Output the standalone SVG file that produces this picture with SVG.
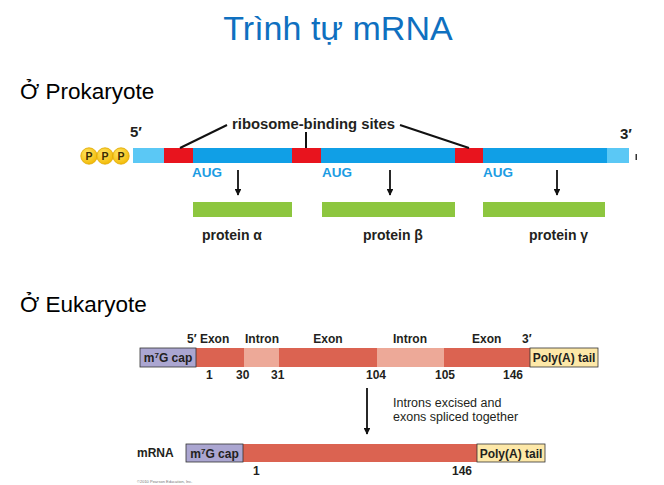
<svg xmlns="http://www.w3.org/2000/svg" width="664" height="485" viewBox="0 0 664 485">
  <style>
    .title { font-family: "Liberation Sans", Arial, sans-serif; font-size: 34px; fill: #0F70C0; }
    .head { font-family: "Liberation Sans", Arial, sans-serif; font-size: 22.5px; fill: #000; }
    .lbl { font-family: "Liberation Sans", Arial, sans-serif; font-weight: bold; font-size: 14px; fill: #231F20; }
    .aug { font-family: "Liberation Sans", Arial, sans-serif; font-weight: bold; font-size: 13.5px; fill: #1C9CE3; }
    .prime { font-family: "Liberation Sans", Arial, sans-serif; font-weight: bold; font-size: 15px; fill: #231F20; }
    .ph { font-family: "Liberation Sans", Arial, sans-serif; font-weight: bold; font-size: 10.5px; fill: #3A2A00; }
    .sm { font-family: "Liberation Sans", Arial, sans-serif; font-size: 12.5px; fill: #231F20; }
    .smb { font-family: "Liberation Sans", Arial, sans-serif; font-weight: bold; font-size: 12px; fill: #231F20; }
    .lead { stroke: #111; stroke-width: 2; fill: none; }
    .arr { stroke: #111; stroke-width: 1.8; fill: none; }
    .box { stroke: #333; stroke-width: 0.8; }
  </style>
  <defs>
    <marker id="ah" viewBox="0 0 10 10" refX="9" refY="5" markerWidth="3.8" markerHeight="3.8" orient="auto">
      <path d="M0,0 L10,5 L0,10 z" fill="#111"/>
    </marker>
    <radialGradient id="pg" cx="0.4" cy="0.35" r="0.7">
      <stop offset="0" stop-color="#FFE566"/>
      <stop offset="1" stop-color="#F2B800"/>
    </radialGradient>
  </defs>

  <!-- headings -->
  <text class="title" x="338" y="40" text-anchor="middle">Trình tự mRNA</text>
  <text class="head" x="20" y="99">Ở Prokaryote</text>
  <text class="head" x="20" y="312">Ở Eukaryote</text>

  <!-- prokaryotic polycistronic mRNA -->
  <g id="pro-mrna">
    <rect x="133" y="148" width="32" height="15" fill="#5BC8F5"/>
    <rect x="164" y="148" width="29" height="15" fill="#E8141E"/>
    <rect x="193" y="148" width="99" height="15" fill="#109FE6"/>
    <rect x="292" y="148" width="29" height="15" fill="#E8141E"/>
    <rect x="321" y="148" width="134" height="15" fill="#109FE6"/>
    <rect x="455" y="148" width="28" height="15" fill="#E8141E"/>
    <rect x="483" y="148" width="124" height="15" fill="#109FE6"/>
    <rect x="607" y="148" width="22" height="15" fill="#5BC8F5"/>
    <rect x="635.5" y="154" width="1.5" height="6" fill="#333"/>
    <text class="prime" x="130" y="137">5′</text>
    <text class="prime" x="620" y="139">3′</text>
  </g>

  <g id="triphosphate">
    <circle cx="89" cy="156" r="8.2" fill="url(#pg)" stroke="#E0A800" stroke-width="0.8"/>
    <circle cx="105" cy="156" r="8.2" fill="url(#pg)" stroke="#E0A800" stroke-width="0.8"/>
    <circle cx="121" cy="156" r="8.2" fill="url(#pg)" stroke="#E0A800" stroke-width="0.8"/>
    <text class="ph" x="89" y="160" text-anchor="middle">P</text>
    <text class="ph" x="105" y="160" text-anchor="middle">P</text>
    <text class="ph" x="121" y="160" text-anchor="middle">P</text>
  </g>

  <g id="rbs-label">
    <text class="lbl" x="232" y="129" textLength="163" lengthAdjust="spacingAndGlyphs">ribosome-binding sites</text>
  </g>

  <g id="aug-labels">
    <text class="aug" x="192" y="177">AUG</text>
    <text class="aug" x="322" y="177">AUG</text>
    <text class="aug" x="483" y="177">AUG</text>
  </g>

  <g id="protein-alpha">
    <rect x="193" y="202" width="99" height="15" fill="#8DC63F"/>
    <text class="lbl" x="202" y="240">protein α</text>
  </g>
  <g id="protein-beta">
    <rect x="322" y="202" width="133" height="15" fill="#8DC63F"/>
    <text class="lbl" x="363" y="240">protein β</text>
  </g>
  <g id="protein-gamma">
    <rect x="483" y="202" width="122" height="15" fill="#8DC63F"/>
    <text class="lbl" x="529" y="240">protein γ</text>
  </g>

  <!-- eukaryotic pre-mRNA -->
  <g id="pre-mrna">
    <rect x="196" y="348" width="48" height="19" fill="#DB6351"/>
    <rect x="244" y="348" width="35" height="19" fill="#EDA998"/>
    <rect x="279" y="348" width="98" height="19" fill="#DB6351"/>
    <rect x="377" y="348" width="67" height="19" fill="#EDA998"/>
    <rect x="444" y="348" width="86" height="19" fill="#DB6351"/>
    <rect class="box" x="140" y="348" width="56" height="19" fill="#ABA6D1"/>
    <rect class="box" x="530" y="348" width="68" height="19" fill="#FDE8A8"/>
    <text class="smb" x="168" y="362" text-anchor="middle">m<tspan font-size="8" dy="-4">7</tspan><tspan dy="4">G cap</tspan></text>
    <text class="smb" x="564" y="362" text-anchor="middle">Poly(A) tail</text>
    <text class="smb" x="187" y="343">5′ Exon</text>
    <text class="smb" x="245" y="343">Intron</text>
    <text class="smb" x="328" y="343" text-anchor="middle">Exon</text>
    <text class="smb" x="393" y="343">Intron</text>
    <text class="smb" x="472" y="343">Exon</text>
    <text class="smb" x="522" y="343">3′</text>
    <text class="smb" x="206" y="379">1</text>
    <text class="smb" x="236" y="379">30</text>
    <text class="smb" x="271" y="379">31</text>
    <text class="smb" x="366" y="379">104</text>
    <text class="smb" x="435" y="379">105</text>
    <text class="smb" x="503" y="379">146</text>
  </g>

  <g id="splicing-note">
    <text class="sm" x="393" y="407">Introns excised and</text>
    <text class="sm" x="393" y="421">exons spliced together</text>
  </g>

  <!-- mature mRNA -->
  <g id="mature-mrna">
    <rect x="243" y="444" width="234" height="18" fill="#DB6351"/>
    <rect class="box" x="186" y="444" width="57" height="18" fill="#ABA6D1"/>
    <rect class="box" x="477" y="444" width="68" height="18" fill="#FDE8A8"/>
    <text class="smb" x="137" y="457">mRNA</text>
    <text class="smb" x="214.5" y="457.5" text-anchor="middle">m<tspan font-size="8" dy="-4">7</tspan><tspan dy="4">G cap</tspan></text>
    <text class="smb" x="511" y="457.5" text-anchor="middle">Poly(A) tail</text>
    <text class="smb" x="253" y="475">1</text>
    <text class="smb" x="452" y="475">146</text>
  </g>

  <text x="137" y="483" font-family="Liberation Sans, Arial, sans-serif" font-size="4" fill="#777">©2010 Pearson Education, Inc.</text>

  <!-- connectors -->
  <g id="connectors">
    <path class="lead" d="M227,125 L180,148"/>
    <path class="lead" d="M306,132 L306,148"/>
    <path class="lead" d="M400,125 L469,148"/>
    <path class="arr" d="M238,170 L238,195" marker-end="url(#ah)"/>
    <path class="arr" d="M390,170 L390,195" marker-end="url(#ah)"/>
    <path class="arr" d="M557,170 L557,195" marker-end="url(#ah)"/>
    <path class="arr" d="M367,388 L367,434" marker-end="url(#ah)"/>
  </g>
</svg>
